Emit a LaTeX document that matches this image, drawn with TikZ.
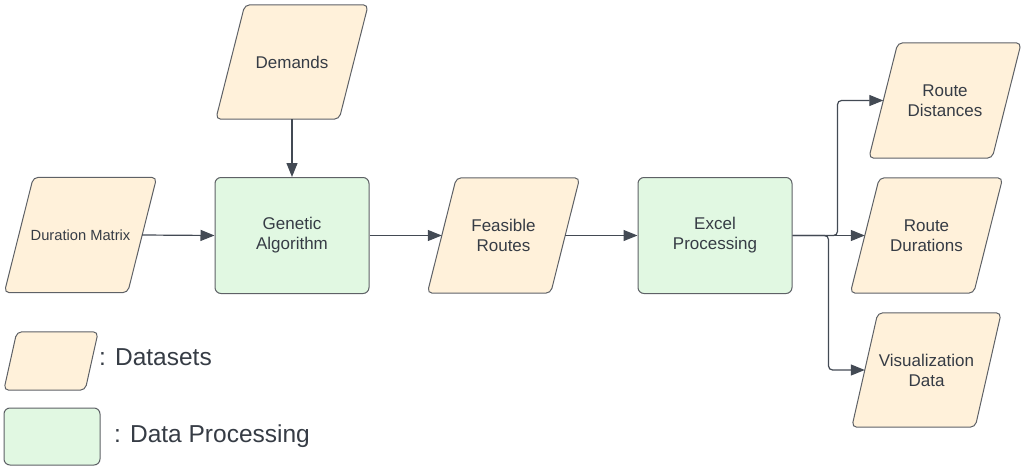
\documentclass[tikz,border=0pt]{standalone}
\usepackage{fontspec}
\setmainfont{Liberation Sans}
\usetikzlibrary{arrows.meta,backgrounds}

\definecolor{dsfill}{HTML}{FFF1DA}
\definecolor{dpfill}{HTML}{E1F8E2}
\definecolor{edge}{HTML}{5E6166}
\definecolor{ink}{HTML}{363C45}
\definecolor{wire}{HTML}{434A54}

\tikzset{
  every node/.style={text=ink, font=\fontsize{17}{20}\selectfont, align=center, inner sep=0pt},
  dset/.style={rectangle, minimum width=123pt, minimum height=115pt},
  proc/.style={rectangle, rounded corners=6pt, draw=edge, fill=dpfill, line width=1pt,
               minimum width=154pt, minimum height=116pt},
  slab/.style={draw=edge, fill=dsfill, line width=1pt, rounded corners=5pt},
  flow/.style={draw=wire, line width=1.2pt, rounded corners=4pt,
               -{Triangle[length=14pt,width=11pt]}},
}

% slanted data shape drawn around a named node: #1 node, #2 horizontal skew
\newcommand\slantshape[2]{%
  \path[slab] ([xshift={#2/2}]#1.north west) -- ([xshift={#2/2}]#1.north east)
    -- ([xshift={-#2/2}]#1.south east) -- ([xshift={-#2/2}]#1.south west) -- cycle;}

\begin{document}
\begin{tikzpicture}[x=1pt, y=-1pt]
  \useasboundingbox (0,0) rectangle (1021,466);

  % datasets
  \node[dset, font=\fontsize{14.7}{17}\selectfont] (dur) at (80.5,235) {Duration Matrix};
  \node[dset, minimum height=114pt] (dem) at (292,62) {Demands};
  \node[dset] (feas) at (503.5,235.5) {Feasible\\Routes};
  \node[dset] (rdist) at (945,100.5) {Route\\Distances};
  \node[dset] (rdur) at (926.5,235.5) {Route\\Durations};
  \node[dset, minimum height=114pt] (vis) at (926.5,370) {Visualization\\Data};

  % processing steps
  \node[proc] (ga) at (292,235.5) {Genetic\\Algorithm};
  \node[proc] (xl) at (715,235.5) {Excel\\Processing};

  % legend
  \node[dset, minimum width=81pt, minimum height=58pt] (kds) at (51,361) {};
  \node[proc, minimum width=96pt, minimum height=57pt] (kdp) at (52,436.5) {};
  \node[anchor=west, font=\fontsize{24.5}{28}\selectfont] (kdstxt) at (99,357) {: Datasets};
  \node[anchor=west, font=\fontsize{24.5}{28}\selectfont] (kdptxt) at (114,436) {: Data Processing};

  \begin{scope}[on background layer]
    \slantshape{dur}{29}
    \slantshape{dem}{29}
    \slantshape{feas}{29}
    \slantshape{rdist}{29}
    \slantshape{rdur}{29}
    \slantshape{vis}{26}
    \slantshape{kds}{13}
  \end{scope}

  % connectors
  \draw[flow] (dem.south) -- (ga.north);
  \draw[flow] (dur.east) -- (ga.west);
  \draw[flow] (ga.east) -- (feas.west);
  \draw[flow] (feas.east) -- (xl.west);
  \draw[flow] (xl.east) -- ++(45,0) |- (rdist.west);
  \draw[flow] (xl.east) -- (rdur.west);
  \draw[flow] (xl.east) -- ++(36,0) |- (vis.west);
\end{tikzpicture}
\end{document}
